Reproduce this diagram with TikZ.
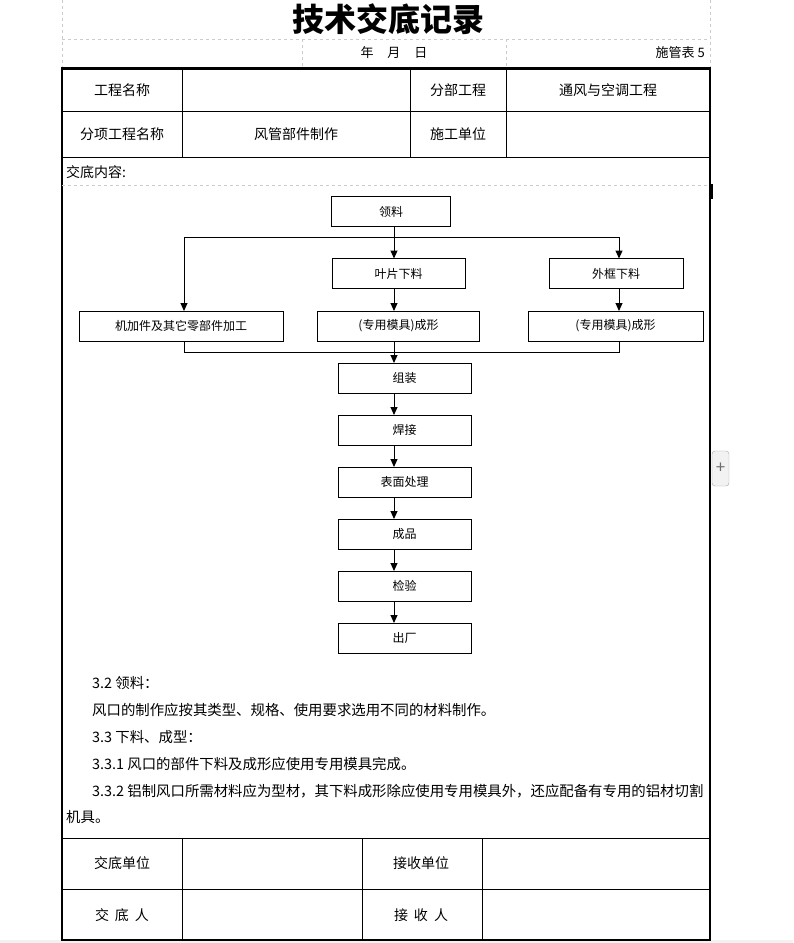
\documentclass[tikz,border=0pt]{standalone}
\usepackage{fontspec}
\setmainfont{Noto Sans CJK SC}
\usepackage{xcolor}
\usetikzlibrary{arrows.meta, positioning, calc}
\definecolor{gridGray}{RGB}{204, 204, 204}
\definecolor{pageGray}{RGB}{242, 242, 242}
\definecolor{btnGray}{RGB}{110, 110, 110}

\begin{document}
\begin{tikzpicture}[
  x=1pt, y=-1pt,
  node distance=22pt,
  flowbox/.style={rectangle, draw=black, line width=1pt, outer sep=0pt, inner sep=0pt, minimum height=30pt, minimum width=133pt, font=\fontsize{12}{14}\selectfont},
  cell/.style={inner sep=0pt, font=\fontsize{14}{16}\selectfont},
  bodytext/.style={anchor=west, inner sep=0pt, font=\fontsize{14.4}{16}\selectfont},
  grid/.style={draw=gridGray, dashed, line width=0.7pt},
  frame/.style={draw=black, line width=2pt},
  rule/.style={draw=black, line width=1pt},
  line/.style={draw=black, line width=1pt, -{Triangle[length=8pt, width=7pt]}}
]
  \useasboundingbox (0,0) rectangle (793,943);
  \fill[pageGray] (0,940) rectangle (793,943);

  % Sheet grid and header
  \draw[grid] (62,0) -- (62,68);
  \draw[grid] (710,0) -- (710,68);
  \draw[grid] (62,39) -- (710,39);
  \draw[grid] (302,39) -- (302,68);
  \draw[grid] (506,39) -- (506,68);
  \node[font=\fontsize{32}{34}\selectfont\bfseries] (title) at (388,19) {技术交底记录};
  \node[cell, font=\fontsize{13}{15}\selectfont] (date) at (394,53) {年\hspace{14pt}月\hspace{14pt}日};
  \node[cell, anchor=east, font=\fontsize{13}{15}\selectfont] (formno) at (705,53) {施管表 5};

  % Table frame
  \draw[frame] (62,68) rectangle (710,940);
  \draw[black, line width=3pt] (61,68) -- (711,68);
  \draw[rule] (62,111) -- (710,111);
  \draw[rule] (62,157) -- (710,157);
  \draw[grid] (62,185) -- (710,185);
  \draw[rule] (62,838) -- (710,838);
  \draw[rule] (62,889) -- (710,889);
  \foreach \x in {182, 410, 506} \draw[rule] (\x,68) -- (\x,157);
  \foreach \x in {182, 362, 482} \draw[rule] (\x,838) -- (\x,940);
  \fill[black] (710,184) rectangle (713,199);

  % Table texts
  \node[cell] (projname) at (122,90) {工程名称};
  \node[cell] (subname) at (458,90) {分部工程};
  \node[cell] (subval) at (608,90) {通风与空调工程};
  \node[cell] (itemname) at (122,134) {分项工程名称};
  \node[cell] (itemval) at (296,134) {风管部件制作};
  \node[cell] (unitname) at (458,134) {施工单位};
  \node[cell, anchor=west] (content) at (66,172) {交底内容:};
  \node[cell] (giveunit) at (122,863) {交底单位};
  \node[cell] (takeunit) at (421,863) {接收单位};
  \node[cell] (giver) at (122,915) {交\hspace{6pt}底\hspace{6pt}人};
  \node[cell] (taker) at (421,915) {接\hspace{6pt}收\hspace{6pt}人};

  % Flow chart
  \node[flowbox, minimum width=119pt] (lingliao) at (391,211.5) {领料};
  \node[flowbox] (yepian) at (398.5,273.5) {叶片下料};
  \node[flowbox, minimum width=134pt] (waikuang) at (616,273.5) {外框下料};
  \node[flowbox, minimum width=204pt] (jijia) at (181,326) {机加件及其它零部件加工};
  \node[flowbox, minimum width=162pt] (cxmid) at (398.5,326) {(专用模具)成形};
  \node[flowbox, minimum width=175pt] (cxright) at (615.5,326) {(专用模具)成形};
  \node[flowbox] (zuzhuang) at (404.5,378) {组装};
  \node[flowbox, below=of zuzhuang] (hanjie) {焊接};
  \node[flowbox, below=of hanjie] (biaomian) {表面处理};
  \node[flowbox, below=of biaomian] (chengpin) {成品};
  \node[flowbox, below=of chengpin] (jianyan) {检验};
  \node[flowbox, below=of jianyan] (chuchang) {出厂};

  \coordinate (split) at (394,237);
  \coordinate (splitL) at (184,237);
  \coordinate (splitR) at (619,237);
  \coordinate (merge) at (394,352);
  \coordinate (mergeL) at (184,352);
  \coordinate (mergeR) at (619,352);

  \draw[rule] (split |- lingliao.south) -- (split);
  \draw[rule] (splitL) -- (splitR);
  \draw[line] (splitL) -- (splitL |- jijia.north);
  \draw[line] (split) -- (split |- yepian.north);
  \draw[line] (splitR) -- (splitR |- waikuang.north);
  \draw[line] (split |- yepian.south) -- (split |- cxmid.north);
  \draw[line] (splitR |- waikuang.south) -- (splitR |- cxright.north);
  \draw[rule] (mergeL |- jijia.south) -- (mergeL) -- (mergeR) -- (mergeR |- cxright.south);
  \draw[rule] (merge |- cxmid.south) -- (merge);
  \draw[line] (merge) -- (merge |- zuzhuang.north);
  \foreach \a/\b in {zuzhuang/hanjie, hanjie/biaomian, biaomian/chengpin, chengpin/jianyan, jianyan/chuchang}
    \draw[line] (split |- \a.south) -- (split |- \b.north);

  % Notes
  \node[bodytext] (n1) at (92,683) {3.2 领料：};
  \node[bodytext] (n2) at (92,710) {风口的制作应按其类型、规格、使用要求选用不同的材料制作。};
  \node[bodytext] (n3) at (92,737) {3.3 下料、成型：};
  \node[bodytext] (n4) at (92,764) {3.3.1 风口的部件下料及成形应使用专用模具完成。};
  \node[bodytext] (n5) at (92,791) {3.3.2 铝制风口所需材料应为型材，其下料成形除应使用专用模具外，还应配备有专用的铝材切割};
  \node[bodytext] (n6) at (66,817) {机具。};

  % Side button
  \draw[draw=btnGray!60, fill=pageGray, rounded corners=3pt] (712,451) rectangle (729,486);
  \node[inner sep=0pt, text=btnGray, font=\fontsize{17}{19}\selectfont] (addbtn) at (720.5,468) {+};
\end{tikzpicture}
\end{document}
